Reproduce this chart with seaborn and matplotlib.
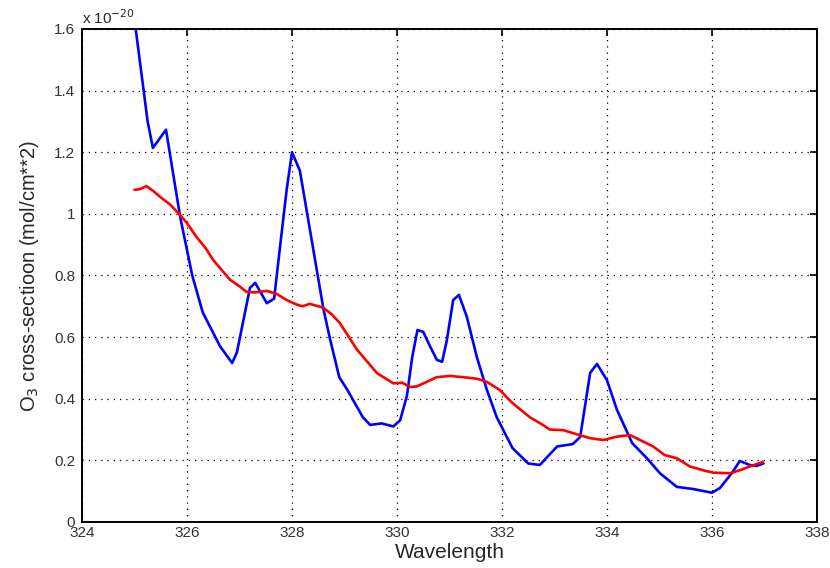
import matplotlib
matplotlib.use("Agg")
import matplotlib.pyplot as plt
import numpy as np
import pandas as pd
import seaborn as sns

# Wavelength (nm) and O3 cross-section (x 1e-20 mol/cm**2)
blue_wl = [325.0, 325.25, 325.35, 325.6, 325.87, 326.1, 326.3, 326.63, 326.86, 326.95,
           327.2, 327.3, 327.52, 327.66, 327.77, 327.9, 328.0, 328.15, 328.4, 328.6,
           328.72, 328.9, 329.05, 329.35, 329.49, 329.71, 329.93, 330.06, 330.19, 330.29,
           330.39, 330.5, 330.63, 330.76, 330.86, 330.95, 331.07, 331.18, 331.33, 331.52,
           331.71, 331.9, 332.2, 332.5, 332.72, 333.05, 333.35, 333.49, 333.68, 333.81,
           334.0, 334.19, 334.48, 334.76, 335.01, 335.33, 335.64, 336.0, 336.15, 336.38,
           336.53, 336.72, 336.85, 336.98]
blue_xs = [1.63, 1.30, 1.214, 1.273, 0.99, 0.80, 0.68, 0.57, 0.516, 0.55,
           0.76, 0.776, 0.71, 0.725, 0.89, 1.08, 1.20, 1.14, 0.89, 0.69,
           0.597, 0.47, 0.43, 0.34, 0.315, 0.32, 0.31, 0.33, 0.41, 0.535,
           0.623, 0.617, 0.57, 0.526, 0.52, 0.59, 0.72, 0.737, 0.666, 0.536,
           0.43, 0.34, 0.24, 0.19, 0.185, 0.245, 0.253, 0.276, 0.484, 0.513,
           0.46, 0.364, 0.256, 0.207, 0.158, 0.114, 0.107, 0.095, 0.11, 0.159,
           0.198, 0.185, 0.182, 0.19]

red_wl = [325.0, 325.1, 325.23, 325.35, 325.49, 325.68, 325.87, 326.0, 326.18, 326.35,
          326.5, 326.65, 326.82, 327.0, 327.13, 327.3, 327.52, 327.71, 327.9, 328.1,
          328.2, 328.34, 328.6, 328.75, 328.91, 329.24, 329.62, 329.93, 330.1, 330.25,
          330.38, 330.57, 330.76, 331.01, 331.26, 331.52, 331.71, 331.96, 332.2, 332.53,
          332.78, 332.91, 333.17, 333.36, 333.68, 333.93, 334.19, 334.44, 334.63, 334.88,
          335.1, 335.33, 335.58, 335.83, 336.02, 336.34, 336.53, 336.72, 336.97]
red_xs = [1.078, 1.08, 1.09, 1.075, 1.055, 1.03, 0.996, 0.97, 0.925, 0.89,
          0.85, 0.82, 0.786, 0.765, 0.747, 0.745, 0.75, 0.74, 0.72, 0.705,
          0.70, 0.708, 0.695, 0.675, 0.646, 0.559, 0.483, 0.45, 0.452, 0.438,
          0.44, 0.455, 0.47, 0.474, 0.47, 0.465, 0.455, 0.428, 0.386, 0.34,
          0.315, 0.30, 0.298, 0.288, 0.272, 0.266, 0.277, 0.282, 0.266, 0.245,
          0.217, 0.207, 0.18, 0.168, 0.16, 0.158, 0.168, 0.18, 0.195]

x_ticks = list(range(324, 339, 2))
y_ticks = [0, 0.2, 0.4, 0.6, 0.8, 1.0, 1.2, 1.4, 1.6]
y_tick_labels = ["0", "0.2", "0.4", "0.6", "0.8", "1", "1.2", "1.4", "1.6"]

sns.set_style("white")
plt.rcParams["font.family"] = ["Liberation Sans", "DejaVu Sans"]

fig = plt.figure(figsize=(8.3, 5.68), dpi=100)
ax = fig.add_axes([0.0988, 0.081, 0.8855, 0.868])

df_blue = pd.DataFrame({"wl": blue_wl, "xs": blue_xs})
df_red = pd.DataFrame({"wl": red_wl, "xs": red_xs})
sns.lineplot(data=df_blue, x="wl", y="xs", ax=ax, color="#0000ff", lw=1.9,
             sort=False, estimator=None)
sns.lineplot(data=df_red, x="wl", y="xs", ax=ax, color="#ff0000", lw=1.9,
             sort=False, estimator=None)

ax.set_xlim(324, 338)
ax.set_ylim(0, 1.6)
ax.set_xticks(x_ticks)
ax.set_yticks(y_ticks)
ax.set_yticklabels(y_tick_labels)
ax.grid(True, color="black", linestyle=(0, (1, 4)), linewidth=0.9)
ax.tick_params(direction="in", length=5, width=1.2, top=True, right=True,
               labelsize=11, colors="black", pad=5)
ax.tick_params(axis="x", pad=3, labelcolor="#333333")
ax.tick_params(axis="y", labelcolor="#333333")
for sp in ax.spines.values():
    sp.set_color("black")
    sp.set_linewidth(1.4)

ax.set_xlabel("Wavelength", fontsize=15, labelpad=2)
ax.set_ylabel(r"O$_3$ cross-sectioon (mol/cm**2)", fontsize=14.5, labelpad=9)
ax.text(0.0, 1.004, r"x 10$^{-20}$", transform=ax.transAxes, fontsize=11,
        ha="left", va="bottom")

fig.savefig("out.png", dpi=100)
